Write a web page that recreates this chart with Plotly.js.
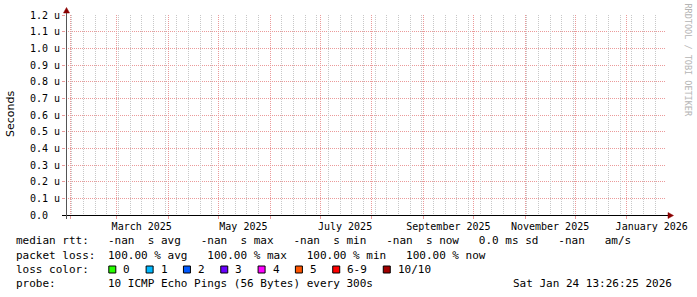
<!DOCTYPE html>
<html>
<head>
<meta charset="utf-8">
<script src="https://cdn.plot.ly/plotly-3.0.1.min.js"></script>
<style>
  html, body { margin: 0; padding: 0; background: #ffffff; }
  #chart { width: 697px; height: 297px; }
</style>
</head>
<body>
<div id="chart"></div>
<script>
// ---------------- data ----------------
const rangeStart = '2025-01-29 13:26:25';
const rangeEnd = '2026-01-24 13:26:25';
// median rtt series: 100% packet loss -> no samples
const rttTimes = [];
const rttMedian = [];

const monthLabels = ['March 2025', 'May 2025', 'July 2025', 'September 2025', 'November 2025', 'January 2026'];
const monthLabelDates = ['2025-03-16', '2025-05-16', '2025-07-16', '2025-09-16', '2025-11-16', '2026-01-16'];

const yTickVals = [0.0, 0.1, 0.2, 0.3, 0.4, 0.5, 0.6, 0.7, 0.8, 0.9, 1.0, 1.1, 1.2];
const yTickText = ['0.0\u00a0\u00a0', '0.1 u', '0.2 u', '0.3 u', '0.4 u', '0.5 u', '0.6 u', '0.7 u', '0.8 u', '0.9 u', '1.0 u', '1.1 u', '1.2 u'];

const statNames = ['avg', 'max', 'min', 'now'];
const medianRttStats = ['-nan', '-nan', '-nan', '-nan'];
const rttSdText = '0.0 ms';
const amPerSecText = '-nan';
const packetLossStats = [100.00, 100.00, 100.00, 100.00];

const lossLabels = ['0', '1', '2', '3', '4', '5', '6-9', '10/10'];
const lossColors = ['#26ff00', '#00b8ff', '#0059ff', '#6a00ff', '#ff00ff', '#ff5500', '#ff0000', '#a10000'];

const probeText = '10 ICMP Echo Pings (56 Bytes) every 300s';
const stampText = 'Sat Jan 24 13:26:25 2026';
const watermarkText = 'RRDTOOL / TOBI OETIKER';

(function () {
  // ---------------- grid tick positions (generated from the axis range) ----------------
  var DAY = 24 * 3600 * 1000;
  var endMsLocal = Date.UTC(2026, 0, 24, 13, 26, 25);
  var isoDay = function (ms) { return new Date(ms).toISOString().slice(0, 10); };
  var monthStartList = [];
  var yy = 2025, mm = 1;
  while (true) {
    var ms = Date.UTC(yy, mm, 1);
    if (ms > endMsLocal) break;
    monthStartList.push(isoDay(ms));
    mm++; if (mm > 11) { mm = 0; yy++; }
  }
  var weekStartList = []; // Sundays
  for (var w = Date.UTC(2025, 1, 2); w <= endMsLocal; w += 7 * DAY) weekStartList.push(isoDay(w));

  // ---------------- layout helpers ----------------
  var PW = 697, PH = 297;
  var PL = 66, PR = 666, PT = 15, PB = 215;
  var fx = function (v) { return (v - PL) / (PR - PL); };
  var fy = function (v) { return (PB - v) / (PB - PT); };
  var MONOF = 'DejaVu Sans Mono, monospace';
  var CHW = 6.62; // char width of 11px mono

  var majorGridColor = '#eb9a9a';
  var minorGridColor = '#c8c8c8';

  function label(x, y, text) {
    return {
      xref: 'paper', yref: 'paper', x: fx(x), y: fy(y), text: text,
      showarrow: false, xanchor: 'left', yanchor: 'middle',
      borderpad: 0, borderwidth: 0,
      font: {family: MONOF, size: 11, color: '#000'}
    };
  }

  var annos = [];
  var shps = [];

  // legend line 1
  var line1 = medianRttStats.map(function (v, i) { return v + '\u00a0\u00a0s ' + statNames[i]; }).join('\u00a0\u00a0\u00a0')
    + '\u00a0\u00a0\u00a0' + rttSdText + ' sd\u00a0\u00a0\u00a0' + amPerSecText + '\u00a0\u00a0\u00a0am/s';
  annos.push(label(16, 241, 'median rtt:'));
  annos.push(label(107.7, 241, line1));
  // legend line 2
  var line2 = packetLossStats.map(function (v, i) { return v.toFixed(2) + ' % ' + statNames[i]; }).join('\u00a0\u00a0\u00a0');
  annos.push(label(16, 255, 'packet loss:'));
  annos.push(label(107.7, 255, line2));
  // legend line 3
  annos.push(label(16, 269, 'loss color:'));
  var swx = 108.3;
  lossLabels.forEach(function (lab, i) {
    shps.push({type: 'rect', xref: 'paper', yref: 'paper',
      x0: fx(swx + 0.5), x1: fx(swx + 7.5), y0: fy(266), y1: fy(273),
      fillcolor: lossColors[i], line: {color: '#000', width: 1}});
    annos.push(label(swx + 15, 269, lab));
    swx = swx + 15 + lab.length * CHW + 15.7;
  });
  // legend line 4
  annos.push(label(16, 283, 'probe:'));
  annos.push(label(107.7, 283, probeText));
  annos.push(label(513.3, 283, stampText));

  // y title
  annos.push({xref: 'paper', yref: 'paper', x: fx(10), y: fy(114), text: 'Seconds',
    showarrow: false, textangle: -90, xanchor: 'center', yanchor: 'middle',
    font: {family: 'DejaVu Sans, sans-serif', size: 11, color: '#000'}});
  // watermark
  annos.push({xref: 'paper', yref: 'paper', x: fx(687.5), y: fy(60), text: watermarkText,
    showarrow: false, textangle: 90, xanchor: 'center', yanchor: 'middle', borderpad: 0,
    font: {family: MONOF, size: 8.5, color: '#b4b4b4'}});

  // axis lines and arrows
  shps.push({type: 'line', xref: 'paper', yref: 'paper', x0: fx(62), x1: fx(669), y0: fy(215.5), y1: fy(215.5),
    line: {color: '#000', width: 1}});
  shps.push({type: 'line', xref: 'paper', yref: 'paper', x0: fx(66.5), x1: fx(66.5), y0: fy(219), y1: fy(12),
    line: {color: '#555', width: 1}});
  shps.push({type: 'path', xref: 'paper', yref: 'paper',
    path: 'M ' + fx(63.5) + ' ' + fy(13) + ' L ' + fx(69.5) + ' ' + fy(13) + ' L ' + fx(66.5) + ' ' + fy(7.5) + ' Z',
    fillcolor: '#8b0000', line: {color: '#8b0000', width: 0.5}});
  shps.push({type: 'path', xref: 'paper', yref: 'paper',
    path: 'M ' + fx(668) + ' ' + fy(212.5) + ' L ' + fx(668) + ' ' + fy(218.5) + ' L ' + fx(673.5) + ' ' + fy(215.5) + ' Z',
    fillcolor: '#8b0000', line: {color: '#8b0000', width: 0.5}});

  var plotTraces = ['x', 'x2', 'x3', 'x4'].map(function (ax) {
    return {type: 'scatter', mode: 'lines', x: rttTimes.slice(), y: rttMedian.slice(), xaxis: ax, yaxis: 'y',
      line: {color: '#000', width: 1}, showlegend: false, hoverinfo: 'skip'};
  });

  function overlayAxis(extra) {
    var base = {type: 'date', range: [rangeStart, rangeEnd], overlaying: 'x', anchor: 'y', side: 'bottom',
      fixedrange: true, showline: false, zeroline: false};
    return Object.assign(base, extra);
  }

  var plotLayout = {
    width: PW, height: PH,
    margin: {l: PL, r: PW - PR, t: PT, b: PH - PB, pad: 0},
    paper_bgcolor: '#ffffff', plot_bgcolor: '#ffffff',
    showlegend: false,
    xaxis: {type: 'date', range: [rangeStart, rangeEnd], fixedrange: true,
      showgrid: false, showticklabels: false, ticks: '', showline: false, zeroline: false},
    // weekly minor grid (Sundays)
    xaxis2: overlayAxis({
      tickmode: 'array', tickvals: weekStartList, ticktext: weekStartList.map(function () { return ''; }),
      showticklabels: false, ticks: '',
      showgrid: true, gridcolor: minorGridColor, griddash: '1px,1px', gridwidth: 1
    }),
    // monthly major grid
    xaxis3: overlayAxis({
      tickmode: 'array', tickvals: monthStartList, ticktext: monthStartList.map(function () { return ''; }),
      showticklabels: false, ticks: 'outside', ticklen: 3, tickcolor: majorGridColor, tickwidth: 1,
      showgrid: true, gridcolor: majorGridColor, griddash: '1px,1px', gridwidth: 1
    }),
    // month labels
    xaxis4: overlayAxis({
      tickmode: 'array', tickvals: monthLabelDates, ticktext: monthLabels,
      showgrid: false, ticks: 'outside', ticklen: 2, tickcolor: 'rgba(0,0,0,0)',
      tickfont: {family: MONOF, size: 10, color: '#000'}
    }),
    yaxis: {
      range: [0, 1.2], fixedrange: true, tickmode: 'array', tickvals: yTickVals, ticktext: yTickText,
      showgrid: true, gridcolor: majorGridColor, griddash: '1px,1px', gridwidth: 1,
      ticks: 'outside', ticklen: 3, tickcolor: majorGridColor,
      showline: false, zeroline: false,
      tickfont: {family: MONOF, size: 10, color: '#000'}
    },
    annotations: annos,
    shapes: shps
  };

  Plotly.newPlot('chart', plotTraces, plotLayout, {staticPlot: true, displayModeBar: false});
})();
</script>
</body>
</html>
